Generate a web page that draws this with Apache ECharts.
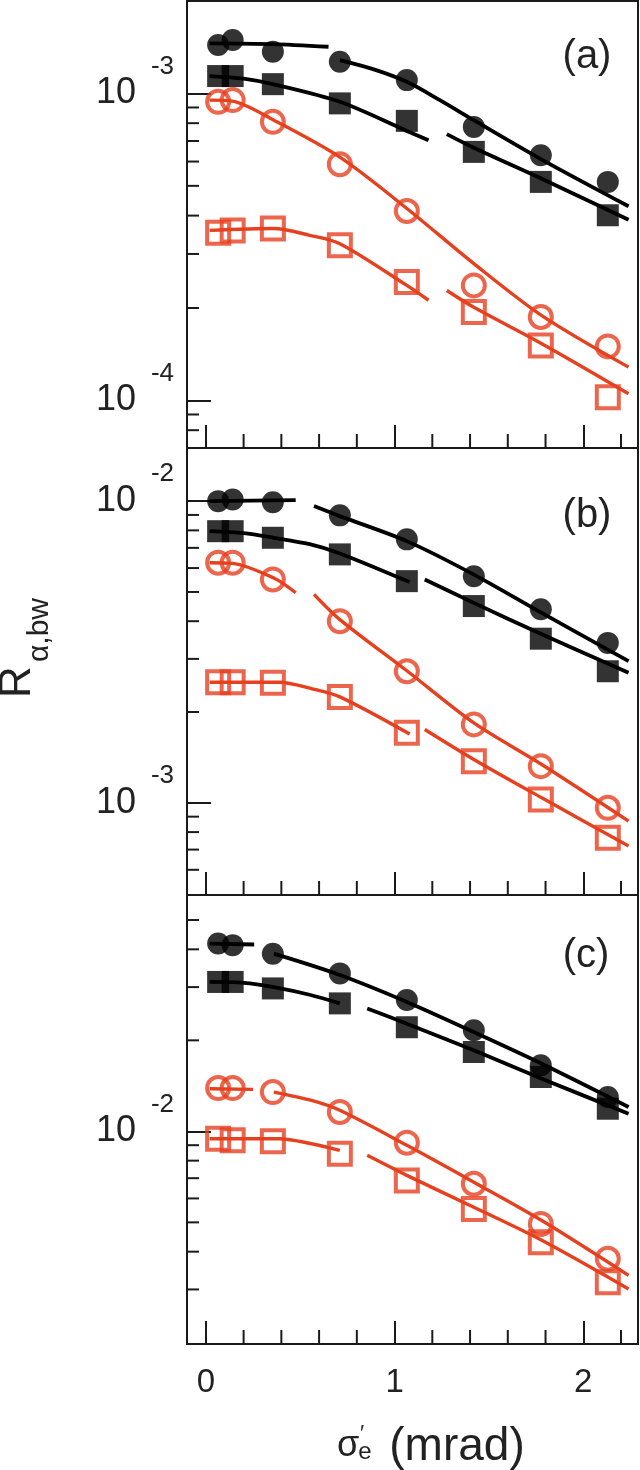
<!DOCTYPE html>
<html>
<head>
<meta charset="utf-8">
<script src="https://cdn.jsdelivr.net/npm/echarts@6/dist/echarts.min.js"></script>
<style>html,body{margin:0;padding:0;background:#fff}#c{width:640px;height:1470px}</style>
</head>
<body>
<div id="c"></div>
<script>
// ---------- data ----------
const X = [0.065, 0.142, 0.355, 0.71, 1.065, 1.42, 1.775, 2.13];

// panel (a)
const aBlackCircle = [1.437e-3, 1.492e-3, 1.366e-3, 1.268e-3, 1.105e-3, 7.78e-4, 6.29e-4, 5.15e-4];
const aBlackSquare = [1.139e-3, 1.139e-3, 1.072e-3, 9.28e-4, 8.14e-4, 6.45e-4, 5.15e-4, 4.01e-4];
const aRedCircle   = [9.39e-4, 9.51e-4, 8.08e-4, 5.88e-4, 4.14e-4, 2.37e-4, 1.87e-4, 1.50e-4];
const aRedSquare   = [3.52e-4, 3.58e-4, 3.63e-4, 3.20e-4, 2.43e-4, 1.94e-4, 1.51e-4, 1.025e-4];
const aFitBlackCircle = [[0.02,1.456e-3],[0.35,1.448e-3],[0.65,1.419e-3],null,[0.71,1.284e-3],[0.89,1.198e-3],[1.065,1.091e-3],[1.24,9.51e-4],[1.42,8.18e-4],[1.78,6.09e-4],[2.24,4.29e-4]];
const aFitBlackSquare = [[0.02,1.139e-3],[0.2,1.117e-3],[0.36,1.07e-3],[0.71,9.39e-4],[1.065,7.55e-4],[1.18,7.04e-4],null,[1.277,7.37e-4],[1.42,6.65e-4],[1.78,5.27e-4],[2.24,3.88e-4]];
const aFitRedCircle   = [[0.02,9.51e-4],[0.14,9.44e-4],[0.36,8.18e-4],[0.71,6.2e-4],[1.065,4.22e-4],[1.42,2.79e-4],[1.78,1.89e-4],[2.24,1.284e-4]];
const aFitRedSquare   = [[0.02,3.58e-4],[0.36,3.63e-4],[0.55,3.45e-4],[0.71,3.24e-4],[1.065,2.37e-4],[1.18,2.12e-4],null,[1.277,2.28e-4],[1.42,2.01e-4],[1.78,1.53e-4],[2.24,1.051e-4]];

// panel (b)
const bBlackCircle = [1.0e-2, 1.013e-2, 9.92e-3, 8.97e-3, 7.47e-3, 5.64e-3, 4.38e-3, 3.39e-3];
const bBlackSquare = [7.95e-3, 7.95e-3, 7.56e-3, 6.66e-3, 5.43e-3, 4.49e-3, 3.50e-3, 2.73e-3];
const bRedCircle   = [6.25e-3, 6.25e-3, 5.50e-3, 4.00e-3, 2.73e-3, 1.82e-3, 1.323e-3, 9.63e-4];
const bRedSquare   = [2.51e-3, 2.51e-3, 2.50e-3, 2.245e-3, 1.706e-3, 1.375e-3, 1.026e-3, 7.66e-4];
const bFitBlackCircle = [[0.02,1.0e-2],[0.476,1.008e-2],null,[0.573,9.63e-3],[0.71,8.92e-3],[1.065,7.37e-3],[1.42,5.71e-3],[1.78,4.26e-3],[2.24,2.95e-3]];
const bFitBlackSquare = [[0.02,7.95e-3],[0.2,7.83e-3],[0.36,7.56e-3],[0.55,7.20e-3],[0.71,6.71e-3],[1.08,5.39e-3],null,[1.16,5.50e-3],[1.42,4.60e-3],[1.78,3.62e-3],[2.24,2.70e-3]];
const bFitRedCircle   = [[0.02,6.25e-3],[0.14,6.22e-3],[0.36,5.56e-3],[0.476,4.97e-3],null,[0.573,4.91e-3],[0.71,4.05e-3],[1.065,2.74e-3],[1.42,1.84e-3],[1.78,1.34e-3],[2.24,8.70e-4]];
const bFitRedSquare   = [[0.02,2.51e-3],[0.39,2.51e-3],[0.56,2.39e-3],[0.71,2.245e-3],[1.08,1.69e-3],null,[1.16,1.751e-3],[1.42,1.393e-3],[1.78,1.039e-3],[2.24,7.19e-4]];

// panel (c)
const cBlackCircle = [4.18e-2, 4.13e-2, 3.87e-2, 3.33e-2, 2.72e-2, 2.16e-2, 1.654e-2, 1.299e-2];
const cBlackSquare = [3.12e-2, 3.12e-2, 2.97e-2, 2.65e-2, 2.21e-2, 1.83e-2, 1.513e-2, 1.188e-2];
const cRedCircle   = [1.391e-2, 1.391e-2, 1.349e-2, 1.159e-2, 9.17e-3, 6.71e-3, 4.94e-3, 3.79e-3];
const cRedSquare   = [9.45e-3, 9.34e-3, 9.27e-3, 8.43e-3, 6.88e-3, 5.54e-3, 4.30e-3, 3.17e-3];
const cFitBlackCircle = [[0.02,4.18e-2],[0.256,4.15e-2],null,[0.36,3.87e-2],[0.71,3.29e-2],[1.065,2.68e-2],[1.42,2.13e-2],[1.78,1.674e-2],[2.24,1.204e-2]];
const cFitBlackSquare = [[0.02,3.12e-2],[0.2,3.10e-2],[0.36,3.00e-2],[0.55,2.83e-2],[0.71,2.65e-2],null,[0.855,2.55e-2],[1.065,2.27e-2],[1.42,1.854e-2],[1.78,1.494e-2],[2.24,1.144e-2]];
const cFitRedCircle   = [[0.02,1.384e-2],[0.25,1.377e-2],null,[0.36,1.349e-2],[0.56,1.266e-2],[0.71,1.174e-2],[1.065,8.99e-3],[1.42,6.79e-3],[1.78,5.07e-3],[2.24,3.34e-3]];
const cFitRedSquare   = [[0.02,9.45e-3],[0.39,9.45e-3],[0.56,9.10e-3],[0.71,8.65e-3],null,[0.855,8.33e-3],[1.065,7.15e-3],[1.42,5.61e-3],[1.78,4.36e-3],[2.24,3.01e-3]];

// ticks
const xMajorTicks = [0, 1, 2];
const xMinorTicks = [0.2, 0.4, 0.6, 0.8, 1.2, 1.4, 1.6, 1.8, 2.2];
const aMinorY = [8e-5, 9e-5, 2e-4, 3e-4, 4e-4, 5e-4, 6e-4, 7e-4, 8e-4, 9e-4];
const bMinorY = [6e-4, 7e-4, 8e-4, 9e-4, 2e-3, 3e-3, 4e-3, 5e-3, 6e-3, 7e-3, 8e-3, 9e-3];
const cMinorY = [3e-3, 4e-3, 5e-3, 6e-3, 7e-3, 8e-3, 9e-3, 2e-2, 3e-2, 4e-2, 5e-2];
const panelLabels = ['(a)', '(b)', '(c)'];

// ---------- chart ----------
const RED = '#E6401F', BLACK = '#000', AX = '#1a1a1a';
const FONT = "'Liberation Sans', Arial, Helvetica, sans-serif";
const X_MIN = -0.1, X_MAX = 2.29;

const panels = [
  {top: 1,   height: 447, yMin: 7e-5,    yMax: 2e-3,   pts: [aBlackCircle, aBlackSquare, aRedCircle, aRedSquare], fits: [aFitBlackCircle, aFitBlackSquare, aFitRedCircle, aFitRedSquare], minor: aMinorY, lab: [587, 57]},
  {top: 448, height: 447, yMin: 4.95e-4, yMax: 1.5e-2, pts: [bBlackCircle, bBlackSquare, bRedCircle, bRedSquare], fits: [bFitBlackCircle, bFitBlackSquare, bFitRedCircle, bFitRedSquare], minor: bMinorY, lab: [587, 516]},
  {top: 895, height: 449, yMin: 1.98e-3, yMax: 6.05e-2, pts: [cBlackCircle, cBlackSquare, cRedCircle, cRedSquare], fits: [cFitBlackCircle, cFitBlackSquare, cFitRedCircle, cFitRedSquare], minor: cMinorY, lab: [586, 956]}
];

const styles = [
  {color: BLACK, symbol: 'circle', size: 22, hollow: false, lw: 3.8},
  {color: BLACK, symbol: 'rect', size: 22, hollow: false, lw: 3.8},
  {color: RED, symbol: 'circle', size: 22, hollow: true, lw: 3.4},
  {color: RED, symbol: 'rect', size: 22, hollow: true, lw: 3.4}
];

const grids = [], xAxes = [], yAxes = [], series = [], graphics = [];

function isDecade(v) {
  const e = Math.log10(v);
  return Math.abs(e - Math.round(e)) < 1e-6;
}

panels.forEach((p, i) => {
  const yi = 2 * i;
  grids.push({left: 187, right: 2, top: p.top, height: p.height, show: true, borderColor: AX, borderWidth: 2, backgroundColor: 'transparent', containLabel: false, outerBoundsMode: 'none'});
  xAxes.push({
    gridIndex: i, type: 'value', min: X_MIN, max: X_MAX,
    axisLine: {show: true, onZero: false, lineStyle: {color: AX, width: 2}},
    axisTick: {show: true, inside: true, length: 23, customValues: xMajorTicks, lineStyle: {color: AX, width: 2}},
    axisLabel: {show: i === 2, customValues: xMajorTicks, fontSize: 33, color: '#222', fontFamily: FONT, margin: 22},
    splitLine: {show: false}
  });
  // main log axis: line, major ticks, mantissa "10"
  yAxes.push({
    gridIndex: i, type: 'log', logBase: 10, min: p.yMin, max: p.yMax, position: 'left',
    axisLine: {show: true, onZero: false, lineStyle: {color: AX, width: 2}},
    axisTick: {show: true, inside: true, length: 24, lineStyle: {color: AX, width: 2}},
    axisLabel: {show: true, margin: 51, fontSize: 36, color: '#222', fontFamily: FONT,
      formatter: v => isDecade(v) ? '10' : ''},
    splitLine: {show: false}
  });
  // same log scale, used only for the exponent labels (raised as superscripts)
  yAxes.push({
    gridIndex: i, type: 'log', logBase: 10, min: p.yMin, max: p.yMax, position: 'left', offset: 0,
    axisLine: {show: false, onZero: false}, axisTick: {show: false},
    axisLabel: {show: true, margin: 13, fontSize: 26, lineHeight: 54, verticalAlign: 'bottom', color: '#222', fontFamily: FONT,
      formatter: v => isDecade(v) ? String(Math.round(Math.log10(v))) : ''},
    splitLine: {show: false}
  });

  // fitted curves
  p.fits.forEach((f, k) => {
    const st = styles[k];
    series.push({
      type: 'line', xAxisIndex: i, yAxisIndex: yi, silent: true,
      data: f.map(d => d ? d : ['-', '-']),
      showSymbol: false, symbol: 'none', smooth: 0.3, connectNulls: false,
      lineStyle: {color: st.color, width: st.lw}, z: 2
    });
  });
  // data points
  p.pts.forEach((arr, k) => {
    const st = styles[k];
    series.push({
      type: 'scatter', xAxisIndex: i, yAxisIndex: yi, silent: true,
      data: X.map((x, j) => [x, arr[j]]),
      symbol: st.symbol, symbolSize: st.size,
      itemStyle: st.hollow ? {color: 'rgba(0,0,0,0)', borderColor: st.color, borderWidth: 4} : {color: st.color},
      z: 3
    });
  });
  // minor y ticks
  series.push({
    type: 'custom', xAxisIndex: i, yAxisIndex: yi, silent: true, clip: false,
    data: p.minor.map(v => [X_MIN, v]), encode: {x: 0, y: 1},
    renderItem: (params, api) => {
      const c = api.coord([api.value(0), api.value(1)]);
      return {type: 'line', shape: {x1: c[0], y1: c[1], x2: c[0] + 12, y2: c[1]}, style: {stroke: AX, lineWidth: 2}};
    }, z: 4
  });
  // minor x ticks
  series.push({
    type: 'custom', xAxisIndex: i, yAxisIndex: yi, silent: true, clip: false,
    data: xMinorTicks.map(v => [v, p.yMin]), encode: {x: 0, y: 1},
    renderItem: (params, api) => {
      const c = api.coord([api.value(0), api.value(1)]);
      return {type: 'line', shape: {x1: c[0], y1: c[1], x2: c[0], y2: c[1] - 14}, style: {stroke: AX, lineWidth: 2}};
    }, z: 4
  });
  graphics.push({type: 'text', x: p.lab[0], y: p.lab[1], silent: true,
    style: {text: panelLabels[i], font: '40px ' + FONT, fill: '#222', align: 'center', verticalAlign: 'middle'}});
});

// axis titles
graphics.push({type: 'text', x: 18, y: 682, rotation: Math.PI / 2, silent: true,
  style: {text: 'R', font: '44px ' + FONT, fill: '#222', align: 'center', verticalAlign: 'middle'}});
graphics.push({type: 'text', x: 40, y: 630, rotation: Math.PI / 2, silent: true,
  style: {text: 'α,bw', font: '30px ' + FONT, fill: '#222', align: 'center', verticalAlign: 'middle'}});
graphics.push({type: 'text', x: 348, y: 1446, silent: true,
  style: {text: 'σ', font: '36px ' + FONT, fill: '#222', align: 'center', verticalAlign: 'middle'}});
graphics.push({type: 'text', x: 365, y: 1452, silent: true,
  style: {text: 'e', font: '24px ' + FONT, fill: '#222', align: 'center', verticalAlign: 'middle'}});
graphics.push({type: 'text', x: 362, y: 1434, silent: true,
  style: {text: '\u2032', font: '22px ' + FONT, fill: '#222', align: 'center', verticalAlign: 'middle'}});
graphics.push({type: 'text', x: 457, y: 1447, silent: true,
  style: {text: '(mrad)', font: '46px ' + FONT, fill: '#222', align: 'center', verticalAlign: 'middle'}});

const chart = echarts.init(document.getElementById('c'), null, {renderer: 'canvas', width: 640, height: 1470});
chart.setOption({
  animation: false,
  backgroundColor: '#fff',
  grid: grids, xAxis: xAxes, yAxis: yAxes, series: series, graphic: graphics
});
</script>
</body>
</html>
